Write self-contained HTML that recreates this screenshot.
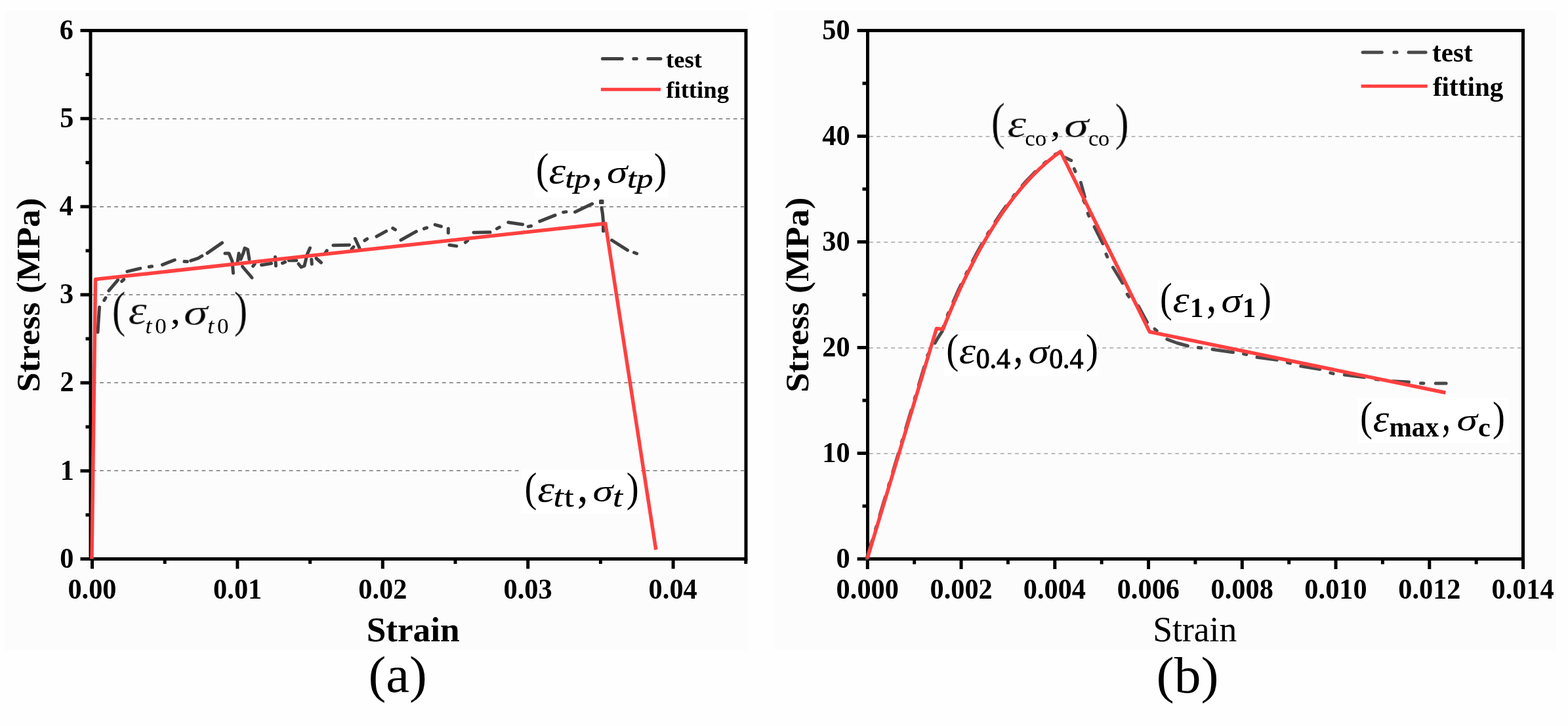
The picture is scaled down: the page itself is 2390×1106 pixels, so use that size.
<!DOCTYPE html>
<html><head><meta charset="utf-8"><title>Stress-strain curves</title>
<style>
html,body{margin:0;padding:0;background:#fefefe;}
body{width:2390px;height:1106px;overflow:hidden;}
svg{display:block;}
text{font-family:"Liberation Serif","DejaVu Serif",serif;font-kerning:none;font-variant-ligatures:none;}
</style></head><body>
<svg width="2390" height="1106" viewBox="0 0 2390 1106">
<defs><filter id="e03" x="-20%" y="-20%" width="140%" height="140%"><feMorphology operator="erode" radius="0.30"/></filter><filter id="e05" x="-20%" y="-20%" width="140%" height="140%"><feMorphology operator="erode" radius="0.50"/></filter><filter id="e08" x="-20%" y="-20%" width="140%" height="140%"><feMorphology operator="erode" radius="0.80"/></filter><filter id="e10" x="-20%" y="-20%" width="140%" height="140%"><feMorphology operator="erode" radius="1.00"/></filter><filter id="e12" x="-20%" y="-20%" width="140%" height="140%"><feMorphology operator="erode" radius="1.20"/></filter><filter id="e15" x="-20%" y="-20%" width="140%" height="140%"><feMorphology operator="erode" radius="1.50"/></filter></defs>
<rect x="0" y="0" width="2390" height="1106" fill="#fefefe"/>
<rect x="8" y="17" width="1133" height="974" fill="#fcfcfc"/>
<rect x="1180" y="17" width="1192" height="974" fill="#fcfcfc"/>
<line x1="141.00" y1="717.00" x2="1134.00" y2="717.00" stroke="#969696" stroke-width="2" stroke-dasharray="5.8 5.3"/>
<line x1="141.00" y1="583.00" x2="1134.00" y2="583.00" stroke="#969696" stroke-width="2" stroke-dasharray="5.8 5.3"/>
<line x1="141.00" y1="449.00" x2="1134.00" y2="449.00" stroke="#969696" stroke-width="2" stroke-dasharray="5.8 5.3"/>
<line x1="141.00" y1="315.00" x2="1134.00" y2="315.00" stroke="#969696" stroke-width="2" stroke-dasharray="5.8 5.3"/>
<line x1="141.00" y1="181.00" x2="1134.00" y2="181.00" stroke="#969696" stroke-width="2" stroke-dasharray="5.8 5.3"/>
<rect x="815" y="230" width="203" height="70.5" fill="#ffffff"/>
<rect x="795.5" y="715" width="181.5" height="67.6" fill="#ffffff"/>
<line x1="122.50" y1="851.50" x2="138.00" y2="851.50" stroke="#000" stroke-width="5"/>
<line x1="130.50" y1="784.42" x2="138.00" y2="784.42" stroke="#000" stroke-width="5"/>
<line x1="122.50" y1="717.33" x2="138.00" y2="717.33" stroke="#000" stroke-width="5"/>
<line x1="130.50" y1="650.25" x2="138.00" y2="650.25" stroke="#000" stroke-width="5"/>
<line x1="122.50" y1="583.17" x2="138.00" y2="583.17" stroke="#000" stroke-width="5"/>
<line x1="130.50" y1="516.08" x2="138.00" y2="516.08" stroke="#000" stroke-width="5"/>
<line x1="122.50" y1="449.00" x2="138.00" y2="449.00" stroke="#000" stroke-width="5"/>
<line x1="130.50" y1="381.92" x2="138.00" y2="381.92" stroke="#000" stroke-width="5"/>
<line x1="122.50" y1="314.83" x2="138.00" y2="314.83" stroke="#000" stroke-width="5"/>
<line x1="130.50" y1="247.75" x2="138.00" y2="247.75" stroke="#000" stroke-width="5"/>
<line x1="122.50" y1="180.67" x2="138.00" y2="180.67" stroke="#000" stroke-width="5"/>
<line x1="130.50" y1="113.58" x2="138.00" y2="113.58" stroke="#000" stroke-width="5"/>
<line x1="122.50" y1="46.50" x2="138.00" y2="46.50" stroke="#000" stroke-width="5"/>
<line x1="140.50" y1="851.50" x2="140.50" y2="866.50" stroke="#000" stroke-width="5"/>
<line x1="251.20" y1="851.50" x2="251.20" y2="859.00" stroke="#000" stroke-width="5"/>
<line x1="361.90" y1="851.50" x2="361.90" y2="866.50" stroke="#000" stroke-width="5"/>
<line x1="472.60" y1="851.50" x2="472.60" y2="859.00" stroke="#000" stroke-width="5"/>
<line x1="583.30" y1="851.50" x2="583.30" y2="866.50" stroke="#000" stroke-width="5"/>
<line x1="694.00" y1="851.50" x2="694.00" y2="859.00" stroke="#000" stroke-width="5"/>
<line x1="804.70" y1="851.50" x2="804.70" y2="866.50" stroke="#000" stroke-width="5"/>
<line x1="915.40" y1="851.50" x2="915.40" y2="859.00" stroke="#000" stroke-width="5"/>
<line x1="1026.10" y1="851.50" x2="1026.10" y2="866.50" stroke="#000" stroke-width="5"/>
<line x1="1136.80" y1="851.50" x2="1136.80" y2="859.00" stroke="#000" stroke-width="5"/>
<rect x="138.0" y="46.5" width="999.0" height="805.0" fill="none" stroke="#000" stroke-width="5"/>
<text transform="translate(91.22 864.80) scale(0.9700 1)" font-size="43.70" font-weight="bold">0</text>
<text transform="translate(91.80 730.63) scale(0.9700 1)" font-size="43.70" font-weight="bold">1</text>
<text transform="translate(91.43 596.47) scale(0.9700 1)" font-size="43.70" font-weight="bold">2</text>
<text transform="translate(91.05 462.30) scale(0.9700 1)" font-size="43.70" font-weight="bold">3</text>
<text transform="translate(90.39 328.13) scale(0.9700 1)" font-size="43.70" font-weight="bold">4</text>
<text transform="translate(91.16 193.97) scale(0.9700 1)" font-size="43.70" font-weight="bold">5</text>
<text transform="translate(90.85 59.80) scale(0.9700 1)" font-size="43.70" font-weight="bold">6</text>
<text transform="translate(103.41 911.60) scale(0.9700 1)" font-size="43.70" font-weight="bold">0.00</text>
<text transform="translate(325.10 911.60) scale(0.9700 1)" font-size="43.70" font-weight="bold">0.01</text>
<text transform="translate(546.31 911.60) scale(0.9700 1)" font-size="43.70" font-weight="bold">0.02</text>
<text transform="translate(767.53 911.60) scale(0.9700 1)" font-size="43.70" font-weight="bold">0.03</text>
<text transform="translate(988.60 911.60) scale(0.9700 1)" font-size="43.70" font-weight="bold">0.04</text>
<text transform="translate(558.67 976.50)" font-size="53.20" font-weight="bold">Strain</text>
<text transform="translate(60.03 597.25) rotate(-90) scale(1.0487 1)" font-size="51.06" font-weight="bold">Stress (MPa)</text>
<text transform="translate(561.46 1053.71) scale(1.0213 1)" font-size="78.85">(a)</text>
<line x1="918.40" y1="89.40" x2="1007.00" y2="89.40" stroke="#404040" stroke-width="5" stroke-dasharray="29.9 17.5 4.5 17.5" stroke-linecap="round"/>
<text transform="translate(1014.91 103.20)" font-size="36.70" font-weight="bold">test</text>
<line x1="915.90" y1="136.30" x2="1007.00" y2="136.30" stroke="#ff4040" stroke-width="5"/>
<text transform="translate(1015.23 149.40)" font-size="36.70" font-weight="bold">fitting</text>
<path d="M149.0 506.0 L151.5 468.0" fill="none" stroke="#404040" stroke-width="5" stroke-linejoin="round" stroke-linecap="round"/>
<line x1="158.81" y1="457.61" x2="160.99" y2="453.79" stroke="#404040" stroke-width="5" stroke-linecap="round"/>
<path d="M165.8 442.8 L179.8 426.4" fill="none" stroke="#404040" stroke-width="5" stroke-linejoin="round" stroke-linecap="round"/>
<line x1="185.57" y1="428.68" x2="188.83" y2="425.72" stroke="#404040" stroke-width="5" stroke-linecap="round"/>
<path d="M193.9 413.6 L213.8 408.9" fill="none" stroke="#404040" stroke-width="5" stroke-linejoin="round" stroke-linecap="round"/>
<line x1="227.23" y1="406.56" x2="231.57" y2="405.84" stroke="#404040" stroke-width="5" stroke-linecap="round"/>
<path d="M247.5 403.3 L266.3 396.0" fill="none" stroke="#404040" stroke-width="5" stroke-linejoin="round" stroke-linecap="round"/>
<line x1="281.00" y1="398.29" x2="285.40" y2="398.51" stroke="#404040" stroke-width="5" stroke-linecap="round"/>
<path d="M290.8 397.2 L302.2 393.3" fill="none" stroke="#404040" stroke-width="5" stroke-linejoin="round" stroke-linecap="round"/>
<line x1="304.08" y1="392.07" x2="307.92" y2="389.93" stroke="#404040" stroke-width="5" stroke-linecap="round"/>
<path d="M316.0 385.6 L338.6 369.9" fill="none" stroke="#404040" stroke-width="5" stroke-linejoin="round" stroke-linecap="round"/>
<path d="M343.0 386.0 L349.0 386.0 L354.0 398.0 L355.5 416.0" fill="none" stroke="#404040" stroke-width="5" stroke-linejoin="round" stroke-linecap="round"/>
<path d="M362.0 400.0 L364.0 386.0 L367.0 395.0 L371.0 385.0 L373.0 378.0 L377.5 380.0 L380.0 395.0" fill="none" stroke="#404040" stroke-width="5" stroke-linejoin="round" stroke-linecap="round"/>
<path d="M369.5 406.0 L384.0 423.0" fill="none" stroke="#404040" stroke-width="5" stroke-linejoin="round" stroke-linecap="round"/>
<line x1="385.68" y1="405.46" x2="388.32" y2="401.94" stroke="#404040" stroke-width="5" stroke-linecap="round"/>
<path d="M398.5 403.7 L413.6 401.2" fill="none" stroke="#404040" stroke-width="5" stroke-linejoin="round" stroke-linecap="round"/>
<path d="M419.5 391.5 L420.5 405.0" fill="none" stroke="#404040" stroke-width="5" stroke-linejoin="round" stroke-linecap="round"/>
<line x1="430.47" y1="400.85" x2="434.53" y2="399.15" stroke="#404040" stroke-width="5" stroke-linecap="round"/>
<path d="M440.3 396.7 L451.8 396.7" fill="none" stroke="#404040" stroke-width="5" stroke-linejoin="round" stroke-linecap="round"/>
<path d="M455.0 402.0 L459.0 407.0 L464.0 405.0 L468.0 388.0 L472.5 377.8" fill="none" stroke="#404040" stroke-width="5" stroke-linejoin="round" stroke-linecap="round"/>
<path d="M474.8 395.3 L475.3 402.2" fill="none" stroke="#404040" stroke-width="5" stroke-linejoin="round" stroke-linecap="round"/>
<path d="M482.0 393.5 L489.5 400.0" fill="none" stroke="#404040" stroke-width="5" stroke-linejoin="round" stroke-linecap="round"/>
<line x1="495.74" y1="385.41" x2="498.26" y2="381.79" stroke="#404040" stroke-width="5" stroke-linecap="round"/>
<path d="M507.8 373.7 L532.5 373.2" fill="none" stroke="#404040" stroke-width="5" stroke-linejoin="round" stroke-linecap="round"/>
<line x1="536.02" y1="379.33" x2="538.98" y2="376.07" stroke="#404040" stroke-width="5" stroke-linecap="round"/>
<path d="M541.3 363.5 L547.9 377.7" fill="none" stroke="#404040" stroke-width="5" stroke-linejoin="round" stroke-linecap="round"/>
<line x1="555.87" y1="366.32" x2="559.53" y2="363.88" stroke="#404040" stroke-width="5" stroke-linecap="round"/>
<path d="M574.0 360.3 L588.7 352.1" fill="none" stroke="#404040" stroke-width="5" stroke-linejoin="round" stroke-linecap="round"/>
<line x1="598.72" y1="347.65" x2="602.48" y2="349.95" stroke="#404040" stroke-width="5" stroke-linecap="round"/>
<path d="M611.0 365.7 L634.4 352.6" fill="none" stroke="#404040" stroke-width="5" stroke-linejoin="round" stroke-linecap="round"/>
<line x1="646.43" y1="348.44" x2="650.57" y2="346.96" stroke="#404040" stroke-width="5" stroke-linecap="round"/>
<path d="M663.2 342.3 L672.4 345.0" fill="none" stroke="#404040" stroke-width="5" stroke-linejoin="round" stroke-linecap="round"/>
<path d="M683.3 348.3 L683.3 354.8" fill="none" stroke="#404040" stroke-width="5" stroke-linejoin="round" stroke-linecap="round"/>
<path d="M685.0 373.3 L695.8 374.9" fill="none" stroke="#404040" stroke-width="5" stroke-linejoin="round" stroke-linecap="round"/>
<line x1="709.27" y1="369.26" x2="712.73" y2="366.54" stroke="#404040" stroke-width="5" stroke-linecap="round"/>
<path d="M721.9 354.3 L747.0 353.7" fill="none" stroke="#404040" stroke-width="5" stroke-linejoin="round" stroke-linecap="round"/>
<line x1="757.36" y1="348.34" x2="761.24" y2="346.26" stroke="#404040" stroke-width="5" stroke-linecap="round"/>
<path d="M774.8 338.7 L796.6 342.0" fill="none" stroke="#404040" stroke-width="5" stroke-linejoin="round" stroke-linecap="round"/>
<line x1="805.24" y1="345.11" x2="809.56" y2="344.29" stroke="#404040" stroke-width="5" stroke-linecap="round"/>
<path d="M822.7 337.1 L846.1 327.9" fill="none" stroke="#404040" stroke-width="5" stroke-linejoin="round" stroke-linecap="round"/>
<line x1="858.63" y1="323.35" x2="862.97" y2="322.65" stroke="#404040" stroke-width="5" stroke-linecap="round"/>
<path d="M876.5 323.0 L902.6 310.5" fill="none" stroke="#404040" stroke-width="5" stroke-linejoin="round" stroke-linecap="round"/>
<path d="M917.0 316.5 L918.5 326.0 L919.5 337.0 L919.5 352.0" fill="none" stroke="#404040" stroke-width="5" stroke-linejoin="round" stroke-linecap="round"/>
<path d="M932.6 366.0 L956.5 381.2" fill="none" stroke="#404040" stroke-width="5" stroke-linejoin="round" stroke-linecap="round"/>
<line x1="966.44" y1="384.74" x2="970.56" y2="386.26" stroke="#404040" stroke-width="5" stroke-linecap="round"/>
<rect x="913" y="304" width="7.5" height="7" rx="1.5" fill="#404040"/>
<path d="M140.0 851.5 L145.5 425.5 L922.8 340.4 L999.8 837.5" fill="none" stroke="#ff4040" stroke-width="5.5" stroke-linejoin="round" stroke-linejoin="miter"/>
<line x1="1325.00" y1="691.00" x2="2319.00" y2="691.00" stroke="#bababa" stroke-width="2" stroke-dasharray="5.8 5.3"/>
<line x1="1325.00" y1="530.00" x2="2319.00" y2="530.00" stroke="#bababa" stroke-width="2" stroke-dasharray="5.8 5.3"/>
<line x1="1325.00" y1="369.00" x2="2319.00" y2="369.00" stroke="#bababa" stroke-width="2" stroke-dasharray="5.8 5.3"/>
<line x1="1325.00" y1="208.00" x2="2319.00" y2="208.00" stroke="#bababa" stroke-width="2" stroke-dasharray="5.8 5.3"/>
<rect x="1764.5" y="426" width="175.3" height="66" fill="#ffffff"/>
<rect x="1438.7" y="503.8" width="235" height="69.1" fill="#ffffff"/>
<rect x="2069.6" y="606.5" width="230.4" height="68.5" fill="#ffffff"/>
<line x1="1306.60" y1="851.50" x2="1322.50" y2="851.50" stroke="#000" stroke-width="5"/>
<line x1="1314.50" y1="771.00" x2="1322.50" y2="771.00" stroke="#000" stroke-width="5"/>
<line x1="1306.60" y1="690.50" x2="1322.50" y2="690.50" stroke="#000" stroke-width="5"/>
<line x1="1314.50" y1="610.00" x2="1322.50" y2="610.00" stroke="#000" stroke-width="5"/>
<line x1="1306.60" y1="529.50" x2="1322.50" y2="529.50" stroke="#000" stroke-width="5"/>
<line x1="1314.50" y1="449.00" x2="1322.50" y2="449.00" stroke="#000" stroke-width="5"/>
<line x1="1306.60" y1="368.50" x2="1322.50" y2="368.50" stroke="#000" stroke-width="5"/>
<line x1="1314.50" y1="288.00" x2="1322.50" y2="288.00" stroke="#000" stroke-width="5"/>
<line x1="1306.60" y1="207.50" x2="1322.50" y2="207.50" stroke="#000" stroke-width="5"/>
<line x1="1314.50" y1="127.00" x2="1322.50" y2="127.00" stroke="#000" stroke-width="5"/>
<line x1="1306.60" y1="46.50" x2="1322.50" y2="46.50" stroke="#000" stroke-width="5"/>
<line x1="1322.30" y1="851.50" x2="1322.30" y2="867.00" stroke="#000" stroke-width="5"/>
<line x1="1393.67" y1="851.50" x2="1393.67" y2="859.50" stroke="#000" stroke-width="5"/>
<line x1="1465.05" y1="851.50" x2="1465.05" y2="867.00" stroke="#000" stroke-width="5"/>
<line x1="1536.42" y1="851.50" x2="1536.42" y2="859.50" stroke="#000" stroke-width="5"/>
<line x1="1607.80" y1="851.50" x2="1607.80" y2="867.00" stroke="#000" stroke-width="5"/>
<line x1="1679.17" y1="851.50" x2="1679.17" y2="859.50" stroke="#000" stroke-width="5"/>
<line x1="1750.55" y1="851.50" x2="1750.55" y2="867.00" stroke="#000" stroke-width="5"/>
<line x1="1821.92" y1="851.50" x2="1821.92" y2="859.50" stroke="#000" stroke-width="5"/>
<line x1="1893.30" y1="851.50" x2="1893.30" y2="867.00" stroke="#000" stroke-width="5"/>
<line x1="1964.67" y1="851.50" x2="1964.67" y2="859.50" stroke="#000" stroke-width="5"/>
<line x1="2036.05" y1="851.50" x2="2036.05" y2="867.00" stroke="#000" stroke-width="5"/>
<line x1="2107.43" y1="851.50" x2="2107.43" y2="859.50" stroke="#000" stroke-width="5"/>
<line x1="2178.80" y1="851.50" x2="2178.80" y2="867.00" stroke="#000" stroke-width="5"/>
<line x1="2250.18" y1="851.50" x2="2250.18" y2="859.50" stroke="#000" stroke-width="5"/>
<line x1="2321.55" y1="851.50" x2="2321.55" y2="867.00" stroke="#000" stroke-width="5"/>
<rect x="1322.5" y="46.5" width="999.0" height="805.0" fill="none" stroke="#000" stroke-width="5"/>
<text transform="translate(1274.42 864.80) scale(0.9700 1)" font-size="43.70" font-weight="bold">0</text>
<text transform="translate(1253.23 703.80) scale(0.9700 1)" font-size="43.70" font-weight="bold">10</text>
<text transform="translate(1253.23 542.80) scale(0.9700 1)" font-size="43.70" font-weight="bold">20</text>
<text transform="translate(1253.23 381.80) scale(0.9700 1)" font-size="43.70" font-weight="bold">30</text>
<text transform="translate(1253.23 220.80) scale(0.9700 1)" font-size="43.70" font-weight="bold">40</text>
<text transform="translate(1253.23 59.80) scale(0.9700 1)" font-size="43.70" font-weight="bold">50</text>
<text transform="translate(1274.61 911.60) scale(0.9700 1)" font-size="43.70" font-weight="bold">0.000</text>
<text transform="translate(1417.47 911.60) scale(0.9700 1)" font-size="43.70" font-weight="bold">0.002</text>
<text transform="translate(1559.70 911.60) scale(0.9700 1)" font-size="43.70" font-weight="bold">0.004</text>
<text transform="translate(1702.68 911.60) scale(0.9700 1)" font-size="43.70" font-weight="bold">0.006</text>
<text transform="translate(1845.51 911.60) scale(0.9700 1)" font-size="43.70" font-weight="bold">0.008</text>
<text transform="translate(1988.36 911.60) scale(0.9700 1)" font-size="43.70" font-weight="bold">0.010</text>
<text transform="translate(2131.22 911.60) scale(0.9700 1)" font-size="43.70" font-weight="bold">0.012</text>
<text transform="translate(2273.45 911.60) scale(0.9700 1)" font-size="43.70" font-weight="bold">0.014</text>
<text transform="translate(1757.21 976.66) scale(0.9765 1)" font-size="54.92">Strain</text>
<text transform="translate(1232.33 597.86) rotate(-90) scale(1.0534 1)" font-size="51.06" font-weight="bold">Stress (MPa)</text>
<text transform="translate(1762.62 1054.79) scale(1.0325 1)" font-size="78.96">(b)</text>
<line x1="2077.10" y1="79.80" x2="2173.10" y2="79.80" stroke="#4a4a4a" stroke-width="5" stroke-dasharray="29.2 18.6 4.2 18" stroke-linecap="round"/>
<text transform="translate(2183.04 93.90)" font-size="41.20" font-weight="bold">test</text>
<line x1="2074.60" y1="131.30" x2="2175.60" y2="131.30" stroke="#ff4040" stroke-width="5"/>
<text transform="translate(2183.90 146.00)" font-size="41.20" font-weight="bold">fitting</text>
<path d="M1321.0 851.0 L1368.0 695.0 L1414.0 541.0 L1422.0 528.0 L1430.0 514.0 L1436.0 505.0 L1439.5 491.8 L1446.8 474.0 L1454.2 456.9 L1461.5 440.5 L1468.9 424.9 L1476.2 409.8 L1483.6 395.4 L1490.9 381.7 L1498.3 368.6 L1505.6 356.1 L1513.0 344.1 L1520.3 332.8 L1527.7 322.0 L1535.0 311.7 L1542.4 302.0 L1549.7 292.7 L1557.1 284.0 L1564.4 275.7 L1571.8 267.9 L1579.1 260.5 L1586.5 253.6 L1593.8 247.0 L1601.2 240.9 L1608.5 235.1 L1614.0 233.0" fill="none" stroke="#4a4a4a" stroke-width="5" stroke-linejoin="round" stroke-dasharray="29 18 4 18" stroke-linecap="round"/>
<path d="M1624.0 240.2 L1632.8 244.5" fill="none" stroke="#4a4a4a" stroke-width="5" stroke-linejoin="round" stroke-linecap="round"/>
<line x1="1637.32" y1="257.18" x2="1639.08" y2="261.22" stroke="#4a4a4a" stroke-width="5" stroke-linecap="round"/>
<path d="M1647.4 278.1 L1653.4 299.8" fill="none" stroke="#4a4a4a" stroke-width="5" stroke-linejoin="round" stroke-linecap="round"/>
<path d="M1651.5 305.0 L1653.4 309.0" fill="none" stroke="#4a4a4a" stroke-width="5" stroke-linejoin="round" stroke-linecap="round"/>
<line x1="1658.18" y1="324.96" x2="1659.82" y2="329.04" stroke="#4a4a4a" stroke-width="5" stroke-linecap="round"/>
<path d="M1668.0 345.5 L1680.9 371.2" fill="none" stroke="#4a4a4a" stroke-width="5" stroke-linejoin="round" stroke-linecap="round"/>
<line x1="1686.03" y1="387.18" x2="1687.77" y2="391.22" stroke="#4a4a4a" stroke-width="5" stroke-linecap="round"/>
<path d="M1696.4 407.3 L1711.0 431.3" fill="none" stroke="#4a4a4a" stroke-width="5" stroke-linejoin="round" stroke-linecap="round"/>
<line x1="1718.25" y1="448.39" x2="1720.75" y2="452.01" stroke="#4a4a4a" stroke-width="5" stroke-linecap="round"/>
<path d="M1735.0 466.0 L1748.5 491.0" fill="none" stroke="#4a4a4a" stroke-width="5" stroke-linejoin="round" stroke-linecap="round"/>
<line x1="1759.92" y1="501.07" x2="1763.28" y2="503.93" stroke="#4a4a4a" stroke-width="5" stroke-linecap="round"/>
<path d="M1778.8 516.8 L1794.0 522.5 L1810.4 527.0" fill="none" stroke="#4a4a4a" stroke-width="5" stroke-linejoin="round" stroke-linecap="round"/>
<line x1="1826.42" y1="529.50" x2="1830.78" y2="530.10" stroke="#4a4a4a" stroke-width="5" stroke-linecap="round"/>
<path d="M1848.0 532.2 L1879.5 536.8" fill="none" stroke="#4a4a4a" stroke-width="5" stroke-linejoin="round" stroke-linecap="round"/>
<line x1="1895.55" y1="539.06" x2="1899.85" y2="539.94" stroke="#4a4a4a" stroke-width="5" stroke-linecap="round"/>
<path d="M1916.0 544.3 L1946.3 548.3" fill="none" stroke="#4a4a4a" stroke-width="5" stroke-linejoin="round" stroke-linecap="round"/>
<line x1="1962.37" y1="552.24" x2="1966.63" y2="553.36" stroke="#4a4a4a" stroke-width="5" stroke-linecap="round"/>
<path d="M1982.7 557.8 L2011.8 562.5" fill="none" stroke="#4a4a4a" stroke-width="5" stroke-linejoin="round" stroke-linecap="round"/>
<line x1="2027.85" y1="568.11" x2="2032.15" y2="569.09" stroke="#4a4a4a" stroke-width="5" stroke-linecap="round"/>
<path d="M2049.4 571.0 L2079.7 574.8" fill="none" stroke="#4a4a4a" stroke-width="5" stroke-linejoin="round" stroke-linecap="round"/>
<line x1="2096.82" y1="577.70" x2="2101.18" y2="578.30" stroke="#4a4a4a" stroke-width="5" stroke-linecap="round"/>
<path d="M2123.0 580.7 L2147.4 582.0" fill="none" stroke="#4a4a4a" stroke-width="5" stroke-linejoin="round" stroke-linecap="round"/>
<line x1="2165.50" y1="583.80" x2="2169.90" y2="584.00" stroke="#4a4a4a" stroke-width="5" stroke-linecap="round"/>
<path d="M2188.3 583.9 L2204.1 583.9" fill="none" stroke="#4a4a4a" stroke-width="5" stroke-linejoin="round" stroke-linecap="round"/>
<path d="M1322 851 L1427.5 500.5 L1437.5 501.5 L1441.5 491.1 L1445.5 481.4 L1449.4 471.9 L1453.4 462.7 L1457.4 453.6 L1461.4 444.7 L1465.3 436.1 L1469.3 427.6 L1473.3 419.3 L1477.3 411.2 L1481.3 403.4 L1485.2 395.7 L1489.2 388.2 L1493.2 380.8 L1497.2 373.7 L1501.1 366.7 L1505.1 359.9 L1509.1 353.3 L1513.1 346.9 L1517.1 340.6 L1521.0 334.5 L1525.0 328.5 L1529.0 322.7 L1533.0 317.1 L1536.9 311.6 L1540.9 306.3 L1544.9 301.1 L1548.9 296.1 L1552.9 291.2 L1556.8 286.5 L1560.8 281.9 L1564.8 277.4 L1568.8 273.1 L1572.7 268.9 L1576.7 264.9 L1580.7 260.9 L1584.7 257.1 L1588.7 253.4 L1592.6 249.9 L1596.6 246.4 L1600.6 243.1 L1604.6 239.8 L1608.5 236.7 L1612.5 233.7 L1616.5 230.8 L1752.3 505.5 L2203.4 598.2" fill="none" stroke="#ff4040" stroke-width="5.5" stroke-linejoin="round" stroke-linejoin="miter"/>
<text transform="translate(170.78 496.53) scale(0.8100 1)" font-size="76.43" fill-opacity="0.8">(</text>
<text transform="translate(170.78 496.53) scale(0.8100 1)" font-size="76.43" filter="url(#e10)">(</text>
<text transform="translate(195.47 493.41) scale(1.1828 1)" font-size="60.30" font-style="italic" fill-opacity="0.8">ε</text>
<text transform="translate(195.47 493.41) scale(1.1828 1)" font-size="60.30" font-style="italic" filter="url(#e10)">ε</text>
<text transform="translate(221.41 507.67) scale(1.0753 1)" font-size="33.70" font-style="italic">t</text>
<text transform="translate(236.16 507.67) scale(1.0270 1)" font-size="34.23">0</text>
<text transform="translate(259.65 492.90) scale(1.0793 1)" font-size="57.23">,</text>
<text transform="translate(280.00 493.96) scale(1.3439 1)" font-size="55.01" font-style="italic" fill-opacity="0.8">σ</text>
<text transform="translate(280.00 493.96) scale(1.3439 1)" font-size="55.01" font-style="italic" filter="url(#e10)">σ</text>
<text transform="translate(316.21 507.67) scale(1.0753 1)" font-size="33.70" font-style="italic">t</text>
<text transform="translate(330.96 507.67) scale(1.0270 1)" font-size="34.23">0</text>
<text transform="translate(356.70 496.80) scale(0.8135 1)" font-size="76.10" fill-opacity="0.8">)</text>
<text transform="translate(356.70 496.80) scale(0.8135 1)" font-size="76.10" filter="url(#e10)">)</text>
<text transform="translate(816.70 279.30) scale(0.9065 1)" font-size="65.29">(</text>
<text transform="translate(836.60 279.44) scale(1.1349 1)" font-size="57.39" font-style="italic">ε</text>
<text transform="translate(861.51 285.75) scale(1.1729 1)" font-size="42.53" font-style="italic" stroke="#000" stroke-width="0.5">tp</text>
<text transform="translate(902.70 278.64) scale(0.8482 1)" font-size="71.25" stroke="#000" stroke-width="0.3">,</text>
<text transform="translate(925.11 279.11) scale(1.2766 1)" font-size="49.68" font-style="italic">σ</text>
<text transform="translate(956.18 285.75) scale(1.1896 1)" font-size="42.53" font-style="italic" stroke="#000" stroke-width="0.5">tp</text>
<text transform="translate(996.79 279.30) scale(0.9065 1)" font-size="65.29">)</text>
<text transform="translate(799.50 764.15) scale(0.8933 1)" font-size="63.63">(</text>
<text transform="translate(819.30 764.04) scale(1.1396 1)" font-size="57.39" font-style="italic">ε</text>
<text transform="translate(843.61 772.35) scale(1.1927 1)" font-size="45.57" font-style="italic" stroke="#000" stroke-width="0.3">t</text>
<text transform="translate(860.09 772.38) scale(1.2155 1)" font-size="43.30" stroke="#000" stroke-width="0.3">t</text>
<text transform="translate(880.12 763.68) scale(0.9346 1)" font-size="69.69" stroke="#000" stroke-width="0.3">,</text>
<text transform="translate(903.44 764.12) scale(1.2652 1)" font-size="49.49" font-style="italic">σ</text>
<text transform="translate(933.93 772.38) scale(1.2461 1)" font-size="43.30" font-style="italic" stroke="#000" stroke-width="0.3">t</text>
<text transform="translate(954.76 764.15) scale(0.8994 1)" font-size="63.63">)</text>
<text transform="translate(1510.71 211.49) scale(0.8186 1)" font-size="77.53" fill-opacity="0.8">(</text>
<text transform="translate(1510.71 211.49) scale(0.8186 1)" font-size="77.53" filter="url(#e10)">(</text>
<text transform="translate(1535.44 207.62) scale(1.2305 1)" font-size="59.05" font-style="italic" fill-opacity="0.8">ε</text>
<text transform="translate(1535.44 207.62) scale(1.2305 1)" font-size="59.05" font-style="italic" filter="url(#e10)">ε</text>
<text transform="translate(1562.17 222.38) scale(1.0563 1)" font-size="33.06">co</text>
<text transform="translate(1601.17 207.48) scale(1.0533 1)" font-size="58.01">,</text>
<text transform="translate(1621.94 207.68) scale(1.4263 1)" font-size="53.10" font-style="italic" fill-opacity="0.8">σ</text>
<text transform="translate(1621.94 207.68) scale(1.4263 1)" font-size="53.10" font-style="italic" filter="url(#e10)">σ</text>
<text transform="translate(1658.89 222.38) scale(1.0389 1)" font-size="33.06">co</text>
<text transform="translate(1699.54 211.56) scale(0.8271 1)" font-size="77.20" fill-opacity="0.8">)</text>
<text transform="translate(1699.54 211.56) scale(0.8271 1)" font-size="77.20" filter="url(#e10)">)</text>
<text transform="translate(1768.12 474.79) scale(0.8766 1)" font-size="64.41">(</text>
<text transform="translate(1787.62 474.84) scale(1.1243 1)" font-size="56.97" font-style="italic">ε</text>
<text transform="translate(1813.94 482.80) scale(0.9710 1)" font-size="41.96" font-weight="bold">1</text>
<text transform="translate(1839.15 473.98) scale(0.8248 1)" font-size="71.64" stroke="#000" stroke-width="0.3">,</text>
<text transform="translate(1861.50 474.89) scale(1.2238 1)" font-size="52.15" font-style="italic">σ</text>
<text transform="translate(1893.96 482.80) scale(0.9645 1)" font-size="41.96" font-weight="bold">1</text>
<text transform="translate(1919.19 474.79) scale(0.8705 1)" font-size="64.41">)</text>
<text transform="translate(1442.18 553.35) scale(0.8994 1)" font-size="63.63">(</text>
<text transform="translate(1461.82 553.34) scale(1.1128 1)" font-size="57.80" font-style="italic">ε</text>
<text transform="translate(1487.71 561.39) scale(0.9656 1)" font-size="43.29" stroke="#000" stroke-width="1.0">0.4</text>
<text transform="translate(1544.78 552.22) scale(0.8336 1)" font-size="70.08" stroke="#000" stroke-width="0.3">,</text>
<text transform="translate(1567.41 553.39) scale(1.2244 1)" font-size="51.96" font-style="italic">σ</text>
<text transform="translate(1599.21 561.39) scale(0.9656 1)" font-size="43.29" stroke="#000" stroke-width="1.0">0.4</text>
<text transform="translate(1654.96 553.35) scale(0.8994 1)" font-size="63.63">)</text>
<text transform="translate(2073.08 656.08) scale(0.9010 1)" font-size="63.52">(</text>
<text transform="translate(2092.67 656.53) scale(1.0519 1)" font-size="58.84" font-style="italic">ε</text>
<text transform="translate(2117.39 664.86) scale(0.9127 1)" font-size="45.33" font-weight="bold">max</text>
<text transform="translate(2198.03 655.32) scale(0.7178 1)" font-size="72.03" stroke="#000" stroke-width="0.3">,</text>
<text transform="translate(2220.50 656.12) scale(1.3098 1)" font-size="48.73" font-style="italic">σ</text>
<text transform="translate(2253.05 664.92) scale(1.0385 1)" font-size="40.79" font-weight="bold">c</text>
<text transform="translate(2274.96 656.08) scale(0.9010 1)" font-size="63.52">)</text>
</svg>
</body></html>
